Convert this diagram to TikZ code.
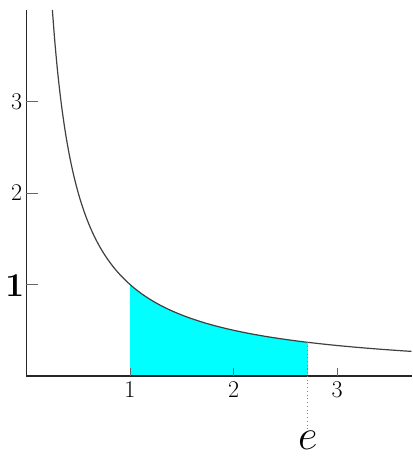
\documentclass[tikz,border=0pt]{standalone}
\usepackage{fix-cm}
\usepackage{tikz}

\definecolor{aqua}{RGB}{0,255,255}
\tikzset{
  axisline/.style={draw=black!85,line width=1.3pt},
  tickmark/.style={draw=black!60,line width=0.5pt},
  ticklabel/.style={inner sep=0pt,font=\fontsize{18}{20}\selectfont},
}

\begin{document}
\begin{tikzpicture}[x=77.6pt,y=68.6pt]
\useasboundingbox (-0.256,-0.929) rectangle (3.725,4.109);
% area under 1/x from 1 to e
\fill[aqua] (1,0) -- plot[domain=1:2.71828,samples=60] (\x,{1/\x}) -- (2.71828,0) -- cycle;
% the hyperbola
\draw[black!75,line width=0.9pt] plot[domain=0.25:3.72,samples=150,smooth] (\x,{1/\x});
% axes
\draw[axisline] (0,4.0) -- (0,0) -- (3.725,0);
% ticks
\foreach \t in {1,2,3} {
  \draw[tickmark] (\t,0) -- (\t,0.09);
}
\foreach \t in {1,2,3} {
  \draw[tickmark] (0,\t) -- (0.11,\t);
}
% tick labels
\node[ticklabel,anchor=north] (x1) at (1,-0.055) {1};
\node[ticklabel,anchor=north] (x2) at (2,-0.055) {2};
\node[ticklabel,anchor=north] (x3) at (3,-0.055) {3};
\node[ticklabel,anchor=east] (y2) at (-0.04,2) {2};
\node[ticklabel,anchor=east] (y3) at (-0.04,3) {3};
\node[inner sep=0pt,anchor=east,font=\fontsize{25}{27}\selectfont\bfseries] (y1) at (-0.02,0.99) {1};
% e marker
\coordinate (ce) at (2.71828,{1/2.71828});
\node[inner sep=0pt,anchor=north,font=\fontsize{32}{34}\selectfont] (elab) at (2.71828,-0.6) {$e$};
\draw[black!50,dotted,line width=0.8pt] (ce) -- (elab.north);
\end{tikzpicture}
\end{document}
